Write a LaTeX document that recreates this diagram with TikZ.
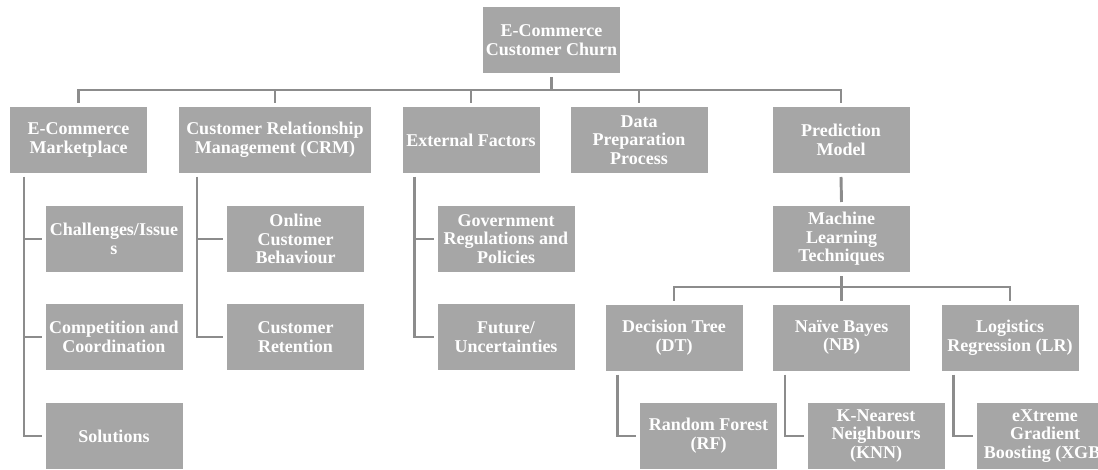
\documentclass[tikz,border=0pt]{standalone}
\usepackage{fontspec}
\setmainfont{Liberation Serif}
\usetikzlibrary{calc}
\definecolor{boxgray}{RGB}{166,166,166}
\definecolor{linegray}{RGB}{140,140,140}
\tikzset{
  box/.style={fill=boxgray, text=white, font=\bfseries\fontsize{13.5}{14}\selectfont,
    align=center, inner sep=0pt, outer sep=3pt, minimum width=102.75pt, minimum height=49.5pt},
  link/.style={draw=linegray, line width=2.2pt}
}

\begin{document}
\begin{tikzpicture}[x=0.75pt,y=-0.75pt]
\useasboundingbox (0,0) rectangle (1098,470);
\clip (0,0) rectangle (1098,470);

\node[box] (root) at (551.5,40) {E-Commerce\\Customer Churn};

\node[box] (mkt) at (78.5,140) {E-Commerce\\Marketplace};
\node[box, minimum width=144pt] (crm) at (275,140) {Customer Relationship\\Management (CRM)};
\node[box] (ext) at (471,140) {External Factors};
\node[box] (dpp) at (639,140) {Data\\Preparation\\Process};
\node[box] (pm) at (841,140) {Prediction\\Model};

\node[box] (chal) at (114,239) {Challenges/Issue\\s};
\node[box] (comp) at (114,337) {Competition and\\Coordination};
\node[box] (sol) at (114,436) {Solutions};

\node[box] (ocb) at (295.5,239) {Online\\Customer\\Behaviour};
\node[box] (ret) at (295.5,337) {Customer\\Retention};

\node[box] (gov) at (506,239) {Government\\Regulations and\\Policies};
\node[box] (fut) at (506,337) {Future/\\Uncertainties};

\node[box] (mlt) at (841.5,239) {Machine\\Learning\\Techniques};
\node[box] (dt) at (674,337.5) {Decision Tree\\(DT)};
\node[box] (nb) at (841.5,337.5) {Naïve Bayes\\(NB)};
\node[box] (lr) at (1010,337.5) {Logistics\\Regression (LR)};

\node[box] (rf) at (708.5,436) {Random Forest\\(RF)};
\node[box] (knn) at (876,436) {K-Nearest\\Neighbours\\(KNN)};
\node[box] (xgb) at (1045,436) {eXtreme\\Gradient\\Boosting (XGB)};

% first level
\coordinate (bar) at (551.5,90);
\draw[link] (root.south) -- (bar);
\draw[link] (mkt.north) |- (bar) -| (pm.north);
\foreach \n in {crm,ext,dpp}
  \draw[link] (\n.north) -- (\n.north |- bar);

% side branches
\foreach \c in {chal,comp,sol}
  \draw[link] ($(mkt.south west)+(18,0)$) |- (\c.west);
\foreach \c in {ocb,ret}
  \draw[link] ($(crm.south west)+(22,0)$) |- (\c.west);
\foreach \c in {gov,fut}
  \draw[link] ($(ext.south west)+(16,0)$) |- (\c.west);

% prediction model
\draw[link] (pm.south) -- (mlt.north);
\coordinate (mlbar) at (841.5,287);
\draw[link] (dt.north) |- (mlbar) -| (lr.north);
\draw[link] (mlt.south) -- (nb.north);

\draw[link] ($(dt.south west)+(16,0)$) |- (rf.west);
\draw[link] ($(nb.south west)+(16,0)$) |- (knn.west);
\draw[link] ($(lr.south west)+(16,0)$) |- (xgb.west);
\end{tikzpicture}
\end{document}
